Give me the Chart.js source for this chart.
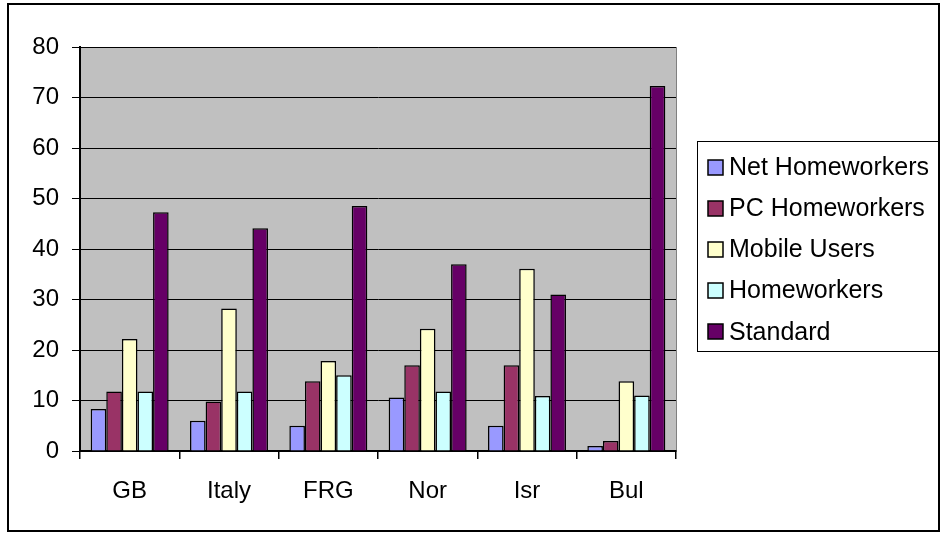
<!DOCTYPE html>
<html>
<head>
<meta charset="utf-8">
<script src="https://cdn.jsdelivr.net/npm/chart.js@4"></script>
<style>
  html, body { margin: 0; padding: 0; background: #ffffff; }
  #wrap { width: 941px; height: 534px; }
</style>
</head>
<body>
<div id="wrap"><canvas id="chart" width="941" height="534"></canvas></div>
<script>
const countries = ["GB", "Italy", "FRG", "Nor", "Isr", "Bul"];
const netHomeworkers = [8.3, 6, 5, 10.6, 5, 1];
const pcHomeworkers = [11.8, 9.8, 13.8, 17, 17, 2];
const mobileUsers = [22.2, 28.2, 17.8, 24.2, 36.1, 13.8];
const homeworkers = [11.8, 11.8, 15, 11.8, 10.9, 11];
const standard = [47.3, 44.1, 48.5, 37, 31, 72.3];

const font = "'Liberation Sans', Arial, sans-serif";

// grey plot area, outer frame and the boxed legend on the right
const frame = {
    id: 'frame',
    beforeDraw(chart) {
        const ctx = chart.ctx;
        const a = chart.chartArea;
        ctx.save();
        ctx.fillStyle = '#c0c0c0';
        ctx.fillRect(a.left, a.top, a.right - a.left, a.bottom - a.top);
        ctx.strokeStyle = '#808080';
        ctx.lineWidth = 1;
        ctx.strokeRect(a.left + 0.5, a.top + 0.5, a.right - a.left, a.bottom - a.top);
        ctx.restore();
    },
    afterDraw(chart) {
        const ctx = chart.ctx;
        ctx.save();
        ctx.strokeStyle = '#000000';
        ctx.lineWidth = 2;
        ctx.strokeRect(8, 4, 931, 527);
        ctx.lineWidth = 1;
        ctx.strokeRect(697.5, 141.5, 241, 210);

        ctx.font = '25px ' + font;
        ctx.textBaseline = 'middle';
        ctx.textAlign = 'left';
        chart.data.datasets.forEach((ds, i) => {
            const y = 167 + i * 41.2;
            ctx.fillStyle = ds.backgroundColor;
            ctx.fillRect(708, Math.round(y - 7.5), 15, 15);
            ctx.strokeStyle = '#000000';
            ctx.lineWidth = 1.5;
            ctx.strokeRect(708, Math.round(y - 7.5), 15, 15);
            ctx.fillStyle = '#000000';
            ctx.fillText(ds.label, 729, y + 1);
        });
        ctx.restore();
    }
};

function makeSet(label, data, color) {
    return {
        label: label,
        data: data,
        backgroundColor: color,
        borderColor: '#000000',
        borderWidth: 1.5,
        borderSkipped: 'bottom',
        barPercentage: 1,
        categoryPercentage: 0.785
    };
}

new Chart(document.getElementById('chart').getContext('2d'), {
    type: 'bar',
    data: {
        labels: countries,
        datasets: [
            makeSet('Net Homeworkers', netHomeworkers, '#9999ff'),
            makeSet('PC Homeworkers', pcHomeworkers, '#993366'),
            makeSet('Mobile Users', mobileUsers, '#ffffcc'),
            makeSet('Homeworkers', homeworkers, '#ccffff'),
            makeSet('Standard', standard, '#660066')
        ]
    },
    options: {
        responsive: false,
        animation: false,
        layout: {
            padding: { top: 47, right: 265, bottom: 0, left: 0 }
        },
        plugins: {
            tooltip: { enabled: false },
            legend: { display: false }
        },
        scales: {
            x: {
                offset: true,
                afterFit(scale) { scale.height = 83; },
                border: { color: '#000000', width: 2 },
                grid: {
                    offset: true,
                    drawOnChartArea: false,
                    color: '#000000',
                    lineWidth: 1.5,
                    tickLength: 8
                },
                ticks: {
                    color: '#000000',
                    font: { family: font, size: 24 },
                    padding: 18
                }
            },
            y: {
                min: 0,
                max: 80,
                afterFit(scale) { scale.width = 80; },
                border: { color: '#000000', width: 2 },
                grid: {
                    color: '#000000',
                    lineWidth: 1,
                    tickLength: 8,
                    tickColor: '#000000'
                },
                ticks: {
                    stepSize: 10,
                    color: '#000000',
                    font: { family: font, size: 24 },
                    padding: 13
                }
            }
        }
    },
    plugins: [frame]
});
</script>
</body>
</html>
